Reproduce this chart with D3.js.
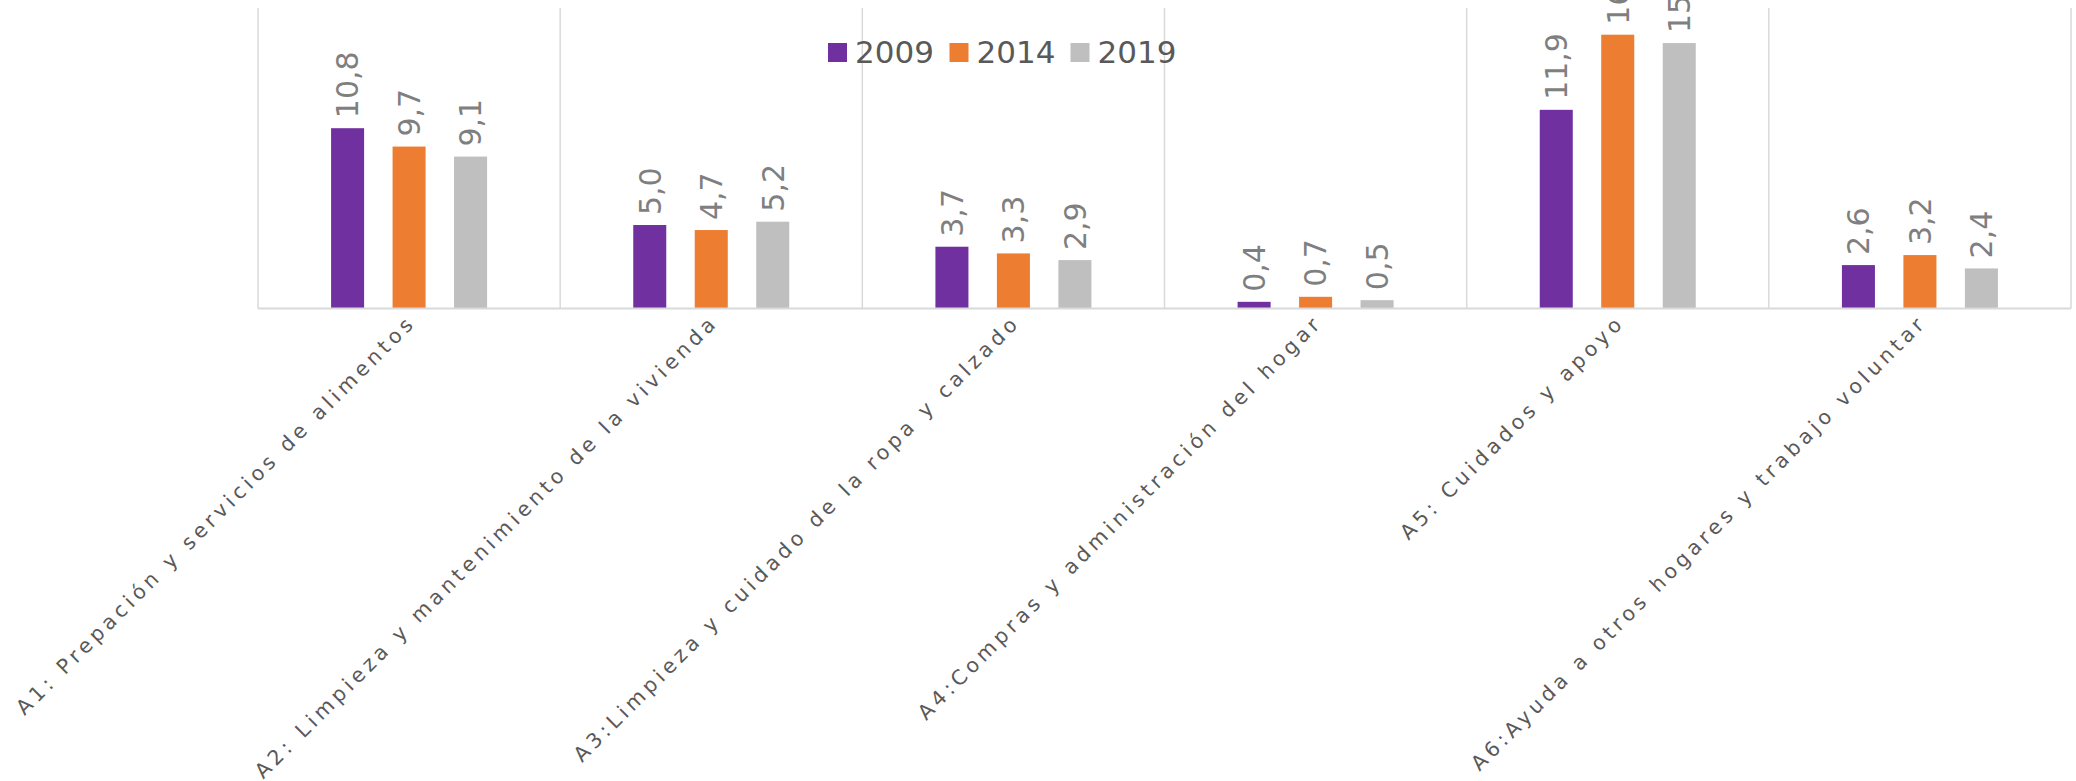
<!DOCTYPE html>
<html>
<head>
<meta charset="utf-8">
<script src="https://cdnjs.cloudflare.com/ajax/libs/d3/7.8.5/d3.min.js"></script>
<style>
	html, body { margin: 0; padding: 0; background: #fff; }
	svg { display: block; font-family: "DejaVu Sans", sans-serif; }
</style>
</head>
<body>
<svg id="chart" width="2076" height="781"></svg>
<script>
var categories = [
	'A1: Prepación y servicios de alimentos',
	'A2: Limpieza y mantenimiento de la vivienda',
	'A3:Limpieza y cuidado de la ropa y calzado',
	'A4:Compras y administración del hogar',
	'A5: Cuidados y apoyo',
	'A6:Ayuda a otros hogares y trabajo voluntar'
];
var seriesNames = ['2009', '2014', '2019'];
var values2009 = [10.8, 5.0, 3.7, 0.4, 11.9, 2.6];
var values2014 = [9.7, 4.7, 3.3, 0.7, 16.4, 3.2];
var values2019 = [9.1, 5.2, 2.9, 0.5, 15.9, 2.4];
var seriesColors = ['#7030a0', '#ed7d31', '#bfbfbf'];

var allValues = [values2009, values2014, values2019];

var svg = d3.select('#chart');

var plotLeft = 258, plotRight = 2071, plotTop = 8, plotBottom = 308.5;

var x0 = d3.scaleBand()
	.domain(categories)
	.range([plotLeft, plotRight])
	.padding(0);

var x1 = d3.scaleBand()
	.domain(seriesNames)
	.range([-78, 78])
	.paddingInner(0.463)
	.paddingOuter(0);

var y = d3.scaleLinear()
	.domain([0, 18])
	.range([plotBottom, plotTop]);

var color = d3.scaleOrdinal()
	.domain(seriesNames)
	.range(seriesColors);

function formatValue (v) {
	return d3.format('.1f')(v).replace('.', ',');
};

// vertical separators between categories
var edges = categories.map(function (c) { return x0(c); }).concat([plotRight]);

svg.append('g')
	.selectAll('line')
	.data(edges)
	.join('line')
	.attr('x1', function (d) { return d; })
	.attr('x2', function (d) { return d; })
	.attr('y1', plotTop)
	.attr('y2', plotBottom)
	.attr('stroke', '#d9d9d9')
	.attr('stroke-width', 1.5);

var rows = [];
categories.forEach(function (c, i) {
	seriesNames.forEach(function (s, j) {
		rows.push({ cat: c, series: s, value: allValues[j][i] });
	});
});

function barX (d) {
	return x0(d.cat) + x0.bandwidth() / 2 + x1(d.series);
};

svg.append('g')
	.selectAll('rect')
	.data(rows)
	.join('rect')
	.attr('x', barX)
	.attr('y', function (d) { return y(d.value); })
	.attr('width', x1.bandwidth())
	.attr('height', function (d) { return plotBottom - y(d.value); })
	.attr('fill', function (d) { return color(d.series); });

// baseline
svg.append('line')
	.attr('x1', plotLeft)
	.attr('x2', plotRight)
	.attr('y1', plotBottom)
	.attr('y2', plotBottom)
	.attr('stroke', '#d9d9d9')
	.attr('stroke-width', 2);

// data labels, rotated
svg.append('g')
	.selectAll('text')
	.data(rows)
	.join('text')
	.attr('transform', function (d) {
		var cx = barX(d) + x1.bandwidth() / 2;
		return 'translate(' + cx + ',' + (y(d.value) - 10) + ') rotate(-90)';
	})
	.attr('dy', '0.36em')
	.attr('text-anchor', 'start')
	.attr('font-size', 30)
	.attr('fill', '#7f7f7f')
	.text(function (d) { return formatValue(d.value); });

// category labels
svg.append('g')
	.selectAll('text')
	.data(categories)
	.join('text')
	.attr('transform', function (d) {
		var cx = x0(d) + x0.bandwidth() / 2;
		return 'translate(' + (cx + 8) + ',' + (plotBottom + 15) + ') rotate(-45)';
	})
	.attr('text-anchor', 'end')
	.attr('font-size', 20.5)
	.attr('letter-spacing', 4.2)
	.attr('fill', '#595959')
	.text(function (d) { return d; });

// legend
var legend = svg.append('g')
	.attr('transform', 'translate(828,43)');

var legendX = [0, 121.5, 242.5];

var item = legend.selectAll('g')
	.data(seriesNames)
	.join('g')
	.attr('transform', function (d, i) { return 'translate(' + legendX[i] + ',0)'; });

item.append('rect')
	.attr('width', 19)
	.attr('height', 19)
	.attr('fill', function (d) { return color(d); });

item.append('text')
	.attr('x', 27)
	.attr('y', 20)
	.attr('font-size', 31)
	.attr('fill', '#595959')
	.text(function (d) { return d; });
</script>
</body>
</html>
